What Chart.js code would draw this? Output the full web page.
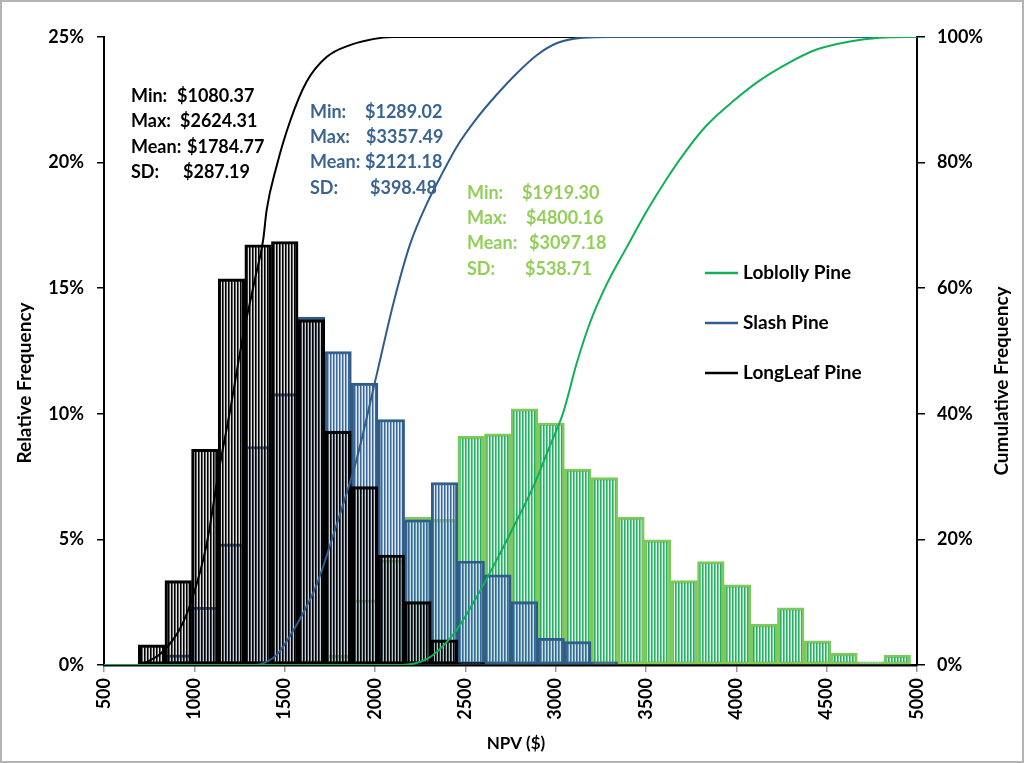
<!DOCTYPE html>
<html><head><meta charset="utf-8">
<script src="https://cdn.jsdelivr.net/npm/chart.js@4.4.1/dist/chart.umd.min.js"></script>
<style>html,body{margin:0;padding:0;background:#fff;}#wrap{position:relative;width:1024px;height:763px;}</style>
</head><body><div id="wrap"><canvas id="c"></canvas></div>
<script>
// Histogram bin centres (NPV, $)
const binCenters = [763.5, 910.9, 1058.3, 1205.7, 1353.1, 1500.5, 1647.9, 1795.3, 1942.7, 2090.1,
  2237.5, 2384.9, 2532.3, 2679.7, 2827.1, 2974.5, 3121.9, 3269.3, 3416.7, 3564.1,
  3711.5, 3858.9, 4006.3, 4153.7, 4301.1, 4448.5, 4595.9, 4743.3, 4890.7];
// Relative frequency (%)
const longleafFreq = [0.8, 3.36, 8.59, 15.37, 16.73, 16.86, 13.75, 9.31, 7.10, 4.38, 2.52, 1.0, 0.1,
  null, null, null, null, null, null, null, null, null, null, null, null, null, null, null, null];
const slashFreq = [null, 0.4, 2.3, 4.82, 8.7, 10.8, 13.85, 12.48, 11.22, 9.77, 5.78, 7.26, 4.14, 3.59,
  2.52, 1.06, 0.93, 0.13, null, null, null, null, null, null, null, null, null, null, null];
const loblollyFreq = [null, null, null, null, null, null, 0.18, 0.38, 2.59, 4.18, 5.88, 5.8, 9.1, 9.2,
  10.2, 9.63, 7.8, 7.46, 5.88, 4.98, 3.36, 4.12, 3.19, 1.62, 2.28, 0.96, 0.46, 0.13, 0.39];
// Cumulative frequency curves (x = NPV, y = %)
const longleafCumX = [500, 681, 760, 828, 921, 985, 1068, 1133, 1197, 1271, 1336, 1382, 1400, 1456, 1529, 1622, 1732, 1861, 2044, 2100, 5000];
const longleafCum  = [0, 0, 0.8, 2.2, 5.8, 10.3, 19.2, 30.5, 40.4, 52.6, 61.5, 67.9, 72.4, 79.5, 86.5, 92.9, 96.8, 98.7, 99.9, 100, 100];
const slashCumX = [500, 1340, 1400, 1456, 1566, 1677, 1788, 1898, 2009, 2101, 2193, 2286, 2378, 2452, 2562, 2673, 2784, 2895, 3005, 3153, 3300, 5000];
const slashCum  = [0, 0, 0.5, 1.6, 6.4, 12.8, 22.4, 32.7, 46.2, 57.5, 66.9, 73.4, 78.6, 82.5, 87.0, 90.8, 94.2, 97.1, 99.0, 99.9, 100, 100];
const loblollyCumX = [500, 2150, 2250, 2322, 2452, 2562, 2673, 2765, 2876, 2968, 3042, 3116, 3190, 3282, 3393, 3503, 3614, 3725, 3835, 3983, 4130, 4278, 4444, 4628, 4794, 4942, 5000];
const loblollyCum  = [0, 0, 0.5, 1.6, 5.6, 10.8, 16.7, 21.9, 28.4, 34.9, 40.2, 48.0, 54.5, 60.6, 66.5, 72.2, 77.4, 82.0, 85.9, 89.8, 93.1, 95.7, 98.0, 99.3, 99.9, 100, 100];
// Series names and summary statistics
const seriesNames = ['Loblolly Pine', 'Slash Pine', 'LongLeaf Pine'];
const statLabels = ['Min:', 'Max:', 'Mean:', 'SD:'];
const longleafStats = ['$1080.37', '$2624.31', '$1784.77', '$287.19'];
const slashStats = ['$1289.02', '$3357.49', '$2121.18', '$398.48'];
const loblollyStats = ['$1919.30', '$4800.16', '$3097.18', '$538.71'];

const FONT = 'Lato, "Open Sans", sans-serif';
Chart.defaults.font.family = FONT;
Chart.defaults.color = '#000';

function makePattern(c1, c2, c3) {
  const cv = document.createElement('canvas');
  cv.width = 3; cv.height = 4;
  const g = cv.getContext('2d');
  g.fillStyle = c1; g.fillRect(0, 0, 1, 4);
  g.fillStyle = c2; g.fillRect(1, 0, 1, 4);
  g.fillStyle = c3; g.fillRect(2, 0, 1, 4);
  return g.createPattern(cv, 'repeat');
}
const pts = (xs, ys) => xs.map((x, i) => ({x: x, y: ys[i]}));
const barPts = vals => binCenters.map((x, i) => ({x: x, y: vals[i]}));

const colBlack = '#000000', colBlue = '#2F5C8C', colGreen = '#10B058';

const lineBase = {type: 'line', yAxisID: 'y2', pointRadius: 0, borderWidth: 2, fill: false, cubicInterpolationMode: 'monotone', order: 0};
const barBase = {type: 'bar', yAxisID: 'y', grouped: false, barPercentage: 1, categoryPercentage: 1, borderSkipped: false};

const annot = {
  id: 'annot',
  afterDraw(chart) {
    const ctx = chart.ctx;
    ctx.save();
    // frame
    ctx.strokeStyle = '#b4b4b4'; ctx.lineWidth = 2;
    ctx.strokeRect(1, 1, 1022, 761);
    // axis titles
    ctx.fillStyle = '#000';
    ctx.textAlign = 'center'; ctx.textBaseline = 'middle';
    ctx.font = 'bold 19px ' + FONT;
    ctx.save(); ctx.translate(25, 383); ctx.rotate(-Math.PI / 2); ctx.fillText('Relative Frequency', 0, 0); ctx.restore();
    ctx.save(); ctx.translate(1002, 381); ctx.rotate(-Math.PI / 2); ctx.fillText('Cumulative Frequency', 0, 0); ctx.restore();
    ctx.font = 'bold 17px ' + FONT;
    ctx.fillText('NPV ($)', 516, 744);
    // statistics blocks
    ctx.font = 'bold 18px ' + FONT;
    ctx.textAlign = 'left';
    const blocks = [
      {color: '#000000', lx: 131, vx: [177, 180, 187, 183], ys: [96, 121.5, 147, 172.5], vals: longleafStats},
      {color: '#3A6492', lx: 310, vx: [365, 366, 365, 370], ys: [112, 137, 162, 188], vals: slashStats},
      {color: '#92CF5A', lx: 467, vx: [522, 526, 529, 525], ys: [193, 218, 243, 269], vals: loblollyStats}
    ];
    blocks.forEach(b => {
      ctx.fillStyle = b.color;
      statLabels.forEach((l, i) => {
        ctx.fillText(l, b.lx, b.ys[i]);
        ctx.fillText(b.vals[i], b.vx[i], b.ys[i]);
      });
    });
    // legend
    ctx.font = 'bold 19px ' + FONT;
    const legCols = [colGreen, colBlue, colBlack];
    seriesNames.forEach((n, i) => {
      const y = 273 + 50 * i;
      ctx.strokeStyle = legCols[i]; ctx.lineWidth = 2.5;
      ctx.beginPath(); ctx.moveTo(705, y); ctx.lineTo(738, y); ctx.stroke();
      ctx.fillStyle = '#000';
      ctx.fillText(n, 743, y);
    });
    ctx.restore();
  }
};

new Chart(document.getElementById('c'), {
  data: {
    datasets: [
      Object.assign({}, lineBase, {label: seriesNames[0], data: pts(loblollyCumX, loblollyCum), borderColor: colGreen}),
      Object.assign({}, lineBase, {label: seriesNames[1], data: pts(slashCumX, slashCum), borderColor: colBlue}),
      Object.assign({}, lineBase, {label: seriesNames[2], data: pts(longleafCumX, longleafCum), borderColor: colBlack}),
      Object.assign({}, barBase, {label: 'LongLeaf freq', data: barPts(longleafFreq), order: 1,
        backgroundColor: makePattern('#000000', 'rgba(30,30,30,0.7)', 'rgba(0,0,0,0.12)'), borderColor: '#000000', borderWidth: 2.5}),
      Object.assign({}, barBase, {label: 'Slash freq', data: barPts(slashFreq), order: 2,
        backgroundColor: makePattern('#3A6795', 'rgba(90,135,185,0.7)', 'rgba(150,180,215,0.3)'), borderColor: '#2E5B87', borderWidth: 2.4}),
      Object.assign({}, barBase, {label: 'Loblolly freq', data: barPts(loblollyFreq), order: 3,
        backgroundColor: makePattern('#27B064', 'rgba(70,190,125,0.75)', 'rgba(150,220,180,0.3)'), borderColor: '#80C85A', borderWidth: 2.5})
    ]
  },
  options: {
    responsive: true, maintainAspectRatio: false, animation: false,
    layout: {padding: {top: 37, left: 0, right: 0, bottom: 0}},
    plugins: {legend: {display: false}, tooltip: {enabled: false}},
    scales: {
      x: {type: 'linear', min: 500, max: 5000, offset: false,
        afterFit: s => { s.height = 98; },
        ticks: {stepSize: 500, autoSkip: false, maxRotation: 90, minRotation: 90, padding: 6,
          font: {size: 18, weight: 'bold'}, color: '#000', callback: v => String(v)},
        grid: {drawOnChartArea: false, offset: false, tickLength: 7, color: '#9a9a9a', lineWidth: 1.5},
        border: {color: '#000', width: 2.5}},
      y: {type: 'linear', position: 'left', min: 0, max: 25,
        afterFit: s => { s.width = 104; },
        ticks: {stepSize: 5, padding: 13, font: {size: 18, weight: 'bold'}, color: '#000', callback: v => v + '%'},
        grid: {drawOnChartArea: false, tickLength: 7, color: '#000', lineWidth: 1.5},
        border: {color: '#000', width: 2}},
      y2: {type: 'linear', position: 'right', min: 0, max: 100,
        afterFit: s => { s.width = 107; },
        ticks: {stepSize: 20, padding: 12, font: {size: 18, weight: 'bold'}, color: '#000', callback: v => v + '%'},
        grid: {drawOnChartArea: false, tickLength: 8, color: '#000', lineWidth: 1.5},
        border: {color: '#000', width: 2}}
    }
  },
  plugins: [annot]
});
</script></body></html>
